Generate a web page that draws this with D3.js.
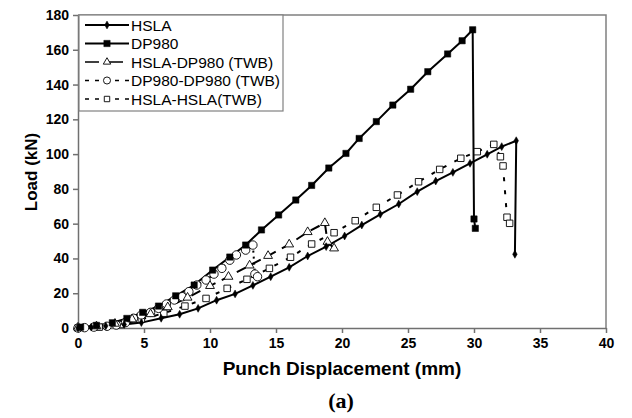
<!DOCTYPE html>
<html><head><meta charset="utf-8">
<script src="https://cdn.jsdelivr.net/npm/d3@7"></script>
<style>body{margin:0;background:#fff}svg{display:block}</style>
</head><body>
<svg id="c" width="632" height="418"></svg>
<script>
const xTicks = [0,5,10,15,20,25,30,35,40];
const yTicks = [0,20,40,60,80,100,120,140,160,180];

const hslaX = [0,1.0,2.1,3.5,4.8,6.3,7.7,9.1,10.5,11.9,13.25,14.6,16.0,17.4,18.8,20.2,21.5,22.9,24.3,25.7,27.1,28.4,29.7,31.0,32.1,33.2,33.1];
const hslaY = [0,0.5,1.2,2.0,3.1,5.6,7.9,11.3,16.0,19.6,24.5,29.5,34.9,41.4,46.8,52.9,59.2,65.4,71.3,78.4,84.5,89.5,94.7,99.9,104.3,107.7,42.4];

const dpX = [0.2,1.4,2.6,3.7,4.9,6.1,7.4,8.8,10.2,11.5,12.7,13.9,15.2,16.5,17.7,19.0,20.3,21.3,22.6,23.85,25.2,26.5,28.0,29.1,29.9,30.0,30.1];
const dpY = [0.5,1.5,3.0,5.5,9.0,12.6,18.5,24.7,33.3,40.8,47.7,56.4,65.0,73.6,82.0,92.0,100.4,109.0,118.7,128.2,137.3,147.4,157.6,165.2,171.5,62.7,57.3];

const hdX = [0,1.4,2.8,4.1,5.5,6.8,8.3,10.0,11.4,13.0,14.4,16.0,17.4,18.7,18.9,19.4];
const hdY = [0.3,1.0,2.5,5.0,8.0,12.0,17.5,24.2,29.5,36.0,41.5,48.1,55.2,60.4,49.6,45.8];

const ddX = [0,0.5,1.2,2.2,2.9,3.6,4.2,4.8,5.5,6.1,6.7,7.3,7.9,8.4,9.0,9.7,10.3,10.9,11.5,12.0,12.7,13.25,13.4,13.6];
const ddY = [0,0.2,0.5,1.0,1.7,3.1,5.6,7.5,9.0,11.3,13.8,16.1,18.0,20.9,24.7,27.6,31.0,34.3,39.0,42.0,44.8,47.7,31.0,29.5];

const hhX = [0,1.6,3.2,4.8,6.5,8.1,9.7,11.3,12.8,14.5,16.1,17.7,19.4,21.0,22.6,24.2,25.8,27.4,29.0,30.25,31.5,32.0,32.2,32.5,32.7];
const hhY = [0,0.5,2.0,5.0,8.5,12.6,17.0,22.8,28.0,34.3,40.7,48.3,54.8,61.7,69.4,76.5,84.1,91.2,97.6,101.4,105.6,98.5,93.2,63.7,60.2];

const seriesNames = ["HSLA","DP980","HSLA-DP980 (TWB)","DP980-DP980 (TWB)","HSLA-HSLA(TWB)"];

const FONT = "'Liberation Sans', Arial, sans-serif";
const svg = d3.select("#c");
const L=78, R=606, T=15, B=328;
const x = d3.scaleLinear().domain([0,40]).range([L,R]);
const y = d3.scaleLinear().domain([0,180]).range([B,T]);

// plot border top/right
svg.append("path").attr("d",`M${L},${T}H${R}V${B}`).attr("fill","none").attr("stroke","#808080").attr("stroke-width",1.5);

const gx = svg.append("g").attr("transform",`translate(0,${B})`)
  .call(d3.axisBottom(x).tickValues(xTicks).tickSize(5).tickSizeOuter(0).tickPadding(5));
const gy = svg.append("g").attr("transform",`translate(${L},0)`)
  .call(d3.axisLeft(y).tickValues(yTicks).tickSize(5).tickSizeOuter(0).tickPadding(4));
[gx,gy].forEach(g=>{
  g.selectAll("path,line").attr("stroke","#707070").attr("stroke-width",1.5);
  g.selectAll("text").attr("font-family",FONT).attr("font-weight","bold").attr("font-size",14).attr("fill","#000");
});

const series = [
  {name:seriesNames[0], xs:hslaX, ys:hslaY, dash:null, sym:d3.symbolDiamond, size:18, fill:"#000", sw:2},
  {name:seriesNames[1], xs:dpX, ys:dpY, dash:null, sym:d3.symbolSquare, size:40, fill:"#000", sw:2},
  {name:seriesNames[2], xs:hdX, ys:hdY, dash:"10,7", sym:d3.symbolTriangle, size:34, fill:"#fff", sw:2},
  {name:seriesNames[3], xs:ddX, ys:ddY, dash:"2,4", sym:d3.symbolCircle, size:56, fill:"#fff", sw:2},
  {name:seriesNames[4], xs:hhX, ys:hhY, dash:"4,9", sym:d3.symbolSquare, size:42, fill:"#fff", sw:2}
];

const line = d3.line().x(d=>x(d[0])).y(d=>y(d[1]));
series.forEach(s=>{
  const pts = s.xs.map((v,i)=>[v,s.ys[i]]);
  svg.append("path").datum(pts).attr("d",line).attr("fill","none").attr("stroke","#000")
    .attr("stroke-width",s.sw).attr("stroke-dasharray",s.dash);
});
series.slice().reverse().forEach(s=>{
  const pts = s.xs.map((v,i)=>[v,s.ys[i]]);
  svg.append("g").selectAll("path").data(pts).join("path")
    .attr("transform",d=>`translate(${x(d[0])},${y(d[1])})`)
    .attr("d",d3.symbol().type(s.sym).size(s.size))
    .attr("fill",s.fill).attr("stroke","#000").attr("stroke-width",s.fill==="#fff"?0.9:0.5);
});

// legend
const lg = svg.append("g");
lg.append("rect").attr("x",79).attr("y",T).attr("width",204).attr("height",96)
  .attr("fill","#fff").attr("stroke","#808080").attr("stroke-width",1.2);
series.forEach((s,i)=>{
  const yy = 25 + i*18.5;
  lg.append("line").attr("x1",85).attr("x2",129).attr("y1",yy).attr("y2",yy)
    .attr("stroke","#000").attr("stroke-width",s.dash?1.5:2)
    .attr("stroke-dasharray", i===2?"14,10":(s.dash?"4,6":null));
  lg.append("path").attr("transform",`translate(107,${yy})`)
    .attr("d",d3.symbol().type(s.sym).size(s.size*(i>=2?0.7:1)))
    .attr("fill",s.fill).attr("stroke","#000").attr("stroke-width",s.fill==="#fff"?0.9:0.5);
  lg.append("text").attr("x",131).attr("y",yy+5.5).text(s.name)
    .attr("font-family",FONT).attr("font-size",15.5);
});

svg.append("text").attr("x",342).attr("y",375).attr("text-anchor","middle")
  .attr("font-family",FONT).attr("font-weight","bold").attr("font-size",19)
  .text("Punch Displacement (mm)");
svg.append("text").attr("transform","translate(37,172) rotate(-90)").attr("text-anchor","middle")
  .attr("font-family",FONT).attr("font-weight","bold").attr("font-size",17)
  .text("Load (kN)");
svg.append("text").attr("x",341).attr("y",408).attr("text-anchor","middle")
  .attr("font-family","'Liberation Serif', 'Times New Roman', serif").attr("font-weight","bold").attr("font-size",22)
  .text("(a)");
</script>
</body></html>
